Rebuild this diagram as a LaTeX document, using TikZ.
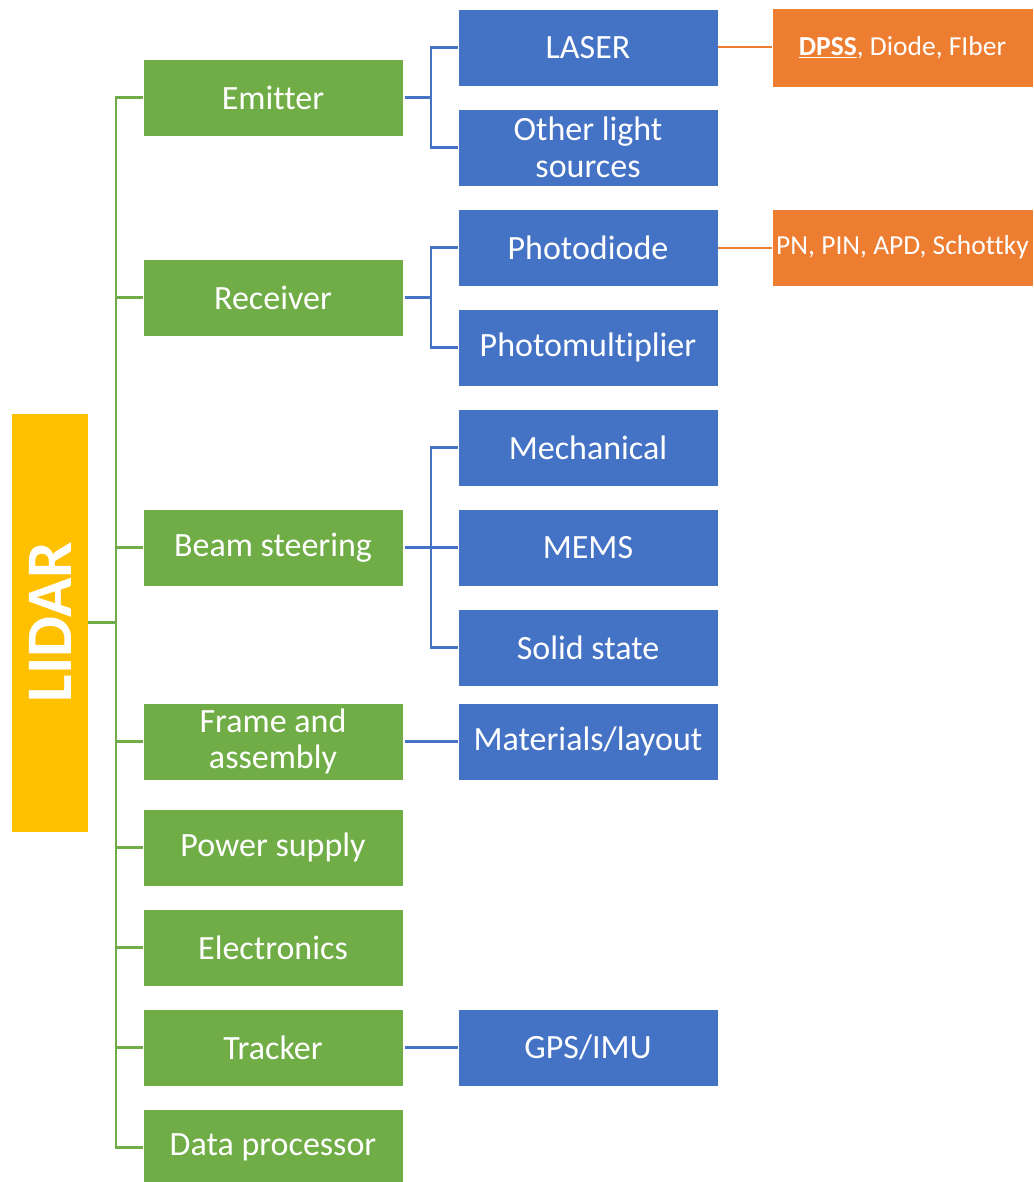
\documentclass[tikz,border=0pt]{standalone}
\usepackage{fontspec}
\setmainfont{Carlito}[Ligatures={NoCommon}]
\definecolor{cgreen}{HTML}{70AD47}
\definecolor{cblue}{HTML}{4472C4}
\definecolor{corange}{HTML}{ED7D31}
\definecolor{cyellow}{HTML}{FFC000}
\begin{document}
\begin{tikzpicture}[x=1pt,y=-1pt,
  box/.style={rectangle, draw=white, line width=0.6pt, text=white, align=center,
    minimum width=260pt, minimum height=77pt, inner sep=0pt,
    font=\fontsize{34}{36.5}\selectfont},
  gbox/.style={box, fill=cgreen},
  bbox/.style={box, fill=cblue},
  obox/.style={box, fill=corange, minimum width=261pt, font=\fontsize{27.5}{31}\selectfont},
  gline/.style={draw=cgreen, line width=2.5pt},
  bline/.style={draw=cblue, line width=2.5pt},
  oline/.style={draw=corange, line width=2pt}]
\clip (0,0) rectangle (1033,1182);
\fill[white] (0,0) rectangle (1033,1182);

% root
\node[rectangle, fill=cyellow, draw=white, line width=0.6pt, minimum width=77pt, minimum height=419pt, inner sep=0pt] (lidar) at (49.5,622.5) {};
\node[rotate=90, text=white, font=\fontsize{65}{70}\selectfont\bfseries] (lidartxt) at (50,622) {LIDAR};

% green level
\node[gbox] (emit) at (273,97.5) {Emitter};
\node[gbox] (recv) at (273,297.5) {Receiver};
\node[gbox] (beam) at (273,547.5) {Beam steering};
\node[gbox] (frame) at (273,741.5) {Frame and\\assembly};
\node[gbox] (power) at (273,847.5) {Power supply};
\node[gbox] (elec) at (273,947.5) {Electronics};
\node[gbox] (track) at (273,1047.5) {Tracker};
\node[gbox] (data) at (273,1147.5) {Data processor};

% blue level
\node[bbox] (laser) at (588,47.5) {LASER};
\node[bbox] (other) at (588,147.5) {Other light\\sources};
\node[bbox] (photod) at (588,247.5) {Photodiode};
\node[bbox] (photom) at (588,347.5) {Photomultiplier};
\node[bbox] (mech) at (588,447.5) {Mechanical};
\node[bbox] (mems) at (588,547.5) {MEMS};
\node[bbox] (solid) at (588,647.5) {Solid state};
\node[bbox] (mat) at (588,741.5) {Materials/layout};
\node[bbox] (gps) at (588,1047.5) {GPS/IMU};

% orange level
\node[obox, minimum height=79pt] (dpss) at (902.5,47.5) {\underline{\textbf{DPSS}}, Diode, FIber};
\node[obox] (pn) at (902.5,247.5) {PN, PIN, APD, Schottky};

% green connectors
\coordinate (gtop) at (116,97.5);
\coordinate (gbot) at (116,1147.5);
\draw[gline] (lidar.east) -- (116,622.5);
\draw[gline] (emit.west) -- (gtop) -- (gbot) -- (data.west);
\foreach \n in {recv,beam,frame,power,elec,track}
  \draw[gline] (\n.west) -- (\n.west -| gtop);

% blue connectors
\coordinate (bx) at (431,0);
\draw[bline] ([xshift=2pt]emit.east) -- (emit.east -| bx);
\draw[bline] (laser.west) -- (laser.west -| bx) -- (other.west -| bx) -- (other.west);
\draw[bline] ([xshift=2pt]recv.east) -- (recv.east -| bx);
\draw[bline] (photod.west) -- (photod.west -| bx) -- (photom.west -| bx) -- (photom.west);
\draw[bline] ([xshift=2pt]beam.east) -- (mems.west);
\draw[bline] (mech.west) -- (mech.west -| bx) -- (solid.west -| bx) -- (solid.west);
\draw[bline] ([xshift=2pt]frame.east) -- (mat.west);
\draw[bline] ([xshift=2pt]track.east) -- (gps.west);

% orange connectors
\draw[oline] (laser.east) -- (dpss.west);
\draw[oline] (photod.east) -- (pn.west);
\end{tikzpicture}
\end{document}
